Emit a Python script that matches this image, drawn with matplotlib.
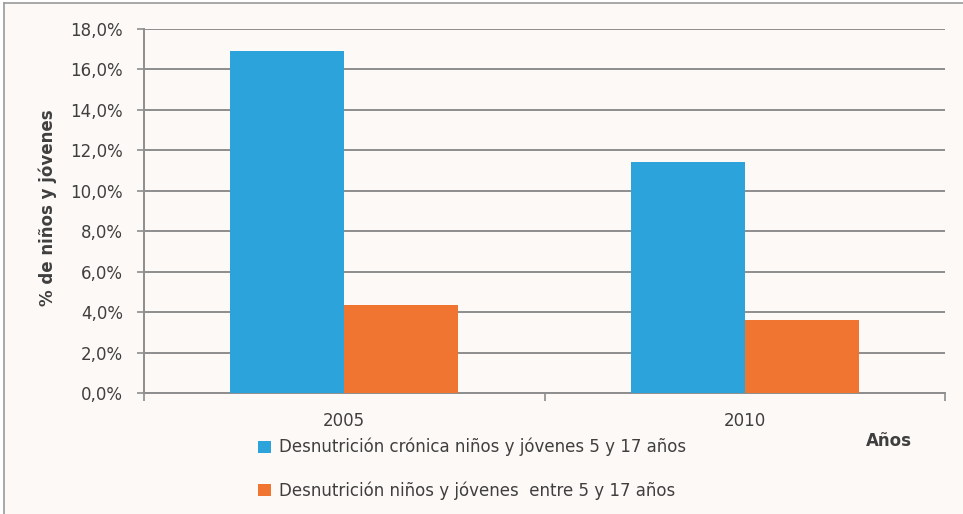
import numpy as np
import matplotlib
matplotlib.use("Agg")
import matplotlib.pyplot as plt
from matplotlib.patches import Rectangle
from matplotlib.ticker import FuncFormatter

# datos
years = ["2005", "2010"]
cronica = [16.9, 11.4]
desnutricion = [4.35, 3.6]
series_labels = ["Desnutrición crónica niños y jóvenes 5 y 17 años",
                 "Desnutrición niños y jóvenes  entre 5 y 17 años"]

BLUE = "#2ca3da"
ORANGE = "#f07530"
GRID = "#8e8e8e"
TXT = "#3f3f3f"

W, H = 963, 514
fig = plt.figure(figsize=(W / 100, H / 100), dpi=100, facecolor="white")

# fondo del area del grafico con borde arriba y a la izquierda
fig.patches.append(Rectangle((4 / W, 0), 1, (H - 3) / H, transform=fig.transFigure,
                             facecolor="#fdf9f6", edgecolor="none", zorder=-5))
fig.add_artist(plt.Line2D([4 / W, 4 / W], [0, (H - 3) / H], color="#9a9a9a", lw=1.2,
                          transform=fig.transFigure, zorder=-4))
fig.add_artist(plt.Line2D([4 / W, 1], [(H - 3) / H, (H - 3) / H], color="#9a9a9a", lw=1.2,
                          transform=fig.transFigure, zorder=-4))

ax = fig.add_axes([144 / W, (H - 393) / H, (945 - 144) / W, (393 - 29) / H])
ax.set_facecolor("none")
ax.set_zorder(2)

x = np.arange(len(years))
bw = 0.285
b1 = ax.bar(x - bw / 2, cronica, bw, color=BLUE, label=series_labels[0], zorder=3)
b2 = ax.bar(x + bw / 2, desnutricion, bw, color=ORANGE, label=series_labels[1], zorder=3)

ax.set_xlim(-0.5, 1.5)
ax.set_ylim(0, 18)
ax.set_yticks(np.arange(0, 18.1, 2))
ax.yaxis.set_major_formatter(FuncFormatter(lambda v, p: f"{v:.1f}%".replace(".", ",")))
ax.set_xticks(x)
ax.set_xticklabels(years)
ax.set_xticks([-0.5, 0.5, 1.5], minor=True)

ax.grid(axis="y", color=GRID, lw=1.4, zorder=1)
for s in ["top", "right"]:
    ax.spines[s].set_visible(False)
for s in ["left", "bottom"]:
    ax.spines[s].set_color(GRID)
    ax.spines[s].set_linewidth(1.4)

ax.tick_params(axis="y", length=5, width=1.2, color=GRID, pad=10, labelsize=12, labelcolor=TXT)
ax.tick_params(axis="x", which="major", length=0, pad=14, labelsize=12, labelcolor=TXT)
ax.tick_params(axis="x", which="minor", length=6, width=1.2, color=GRID)

ax.set_ylabel("% de niños y jóvenes", fontsize=12, fontweight="bold", color=TXT)
ax.yaxis.set_label_coords(-0.109, 0.51)

fig.text(889 / W, 1 - 441 / H, "Años", fontsize=12, fontweight="bold", color=TXT,
         ha="center", va="center")

leg = ax.legend(loc="upper left", bbox_to_anchor=(243 / W, 1 - 423 / H),
                bbox_transform=fig.transFigure, frameon=False, fontsize=12,
                handlelength=0.75, handleheight=0.75, handletextpad=0.5,
                labelspacing=1.5)
for t in leg.get_texts():
    t.set_color(TXT)

fig.savefig("out.png", dpi=100, facecolor="white")
